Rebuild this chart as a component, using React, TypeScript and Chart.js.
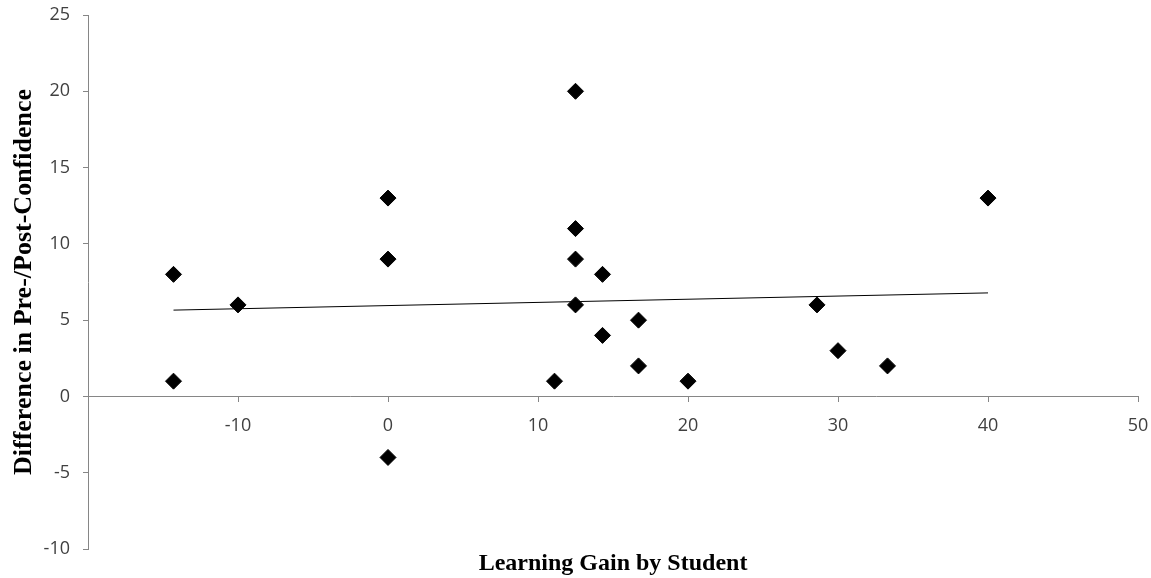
import React, { useEffect, useRef } from "react";
import { Chart, registerables } from "chart.js";

Chart.register(...registerables);

// Data
const learningGain: number[] = [-14.3, -14.3, -10, 0, 0, 0, 11.1, 12.5, 12.5, 12.5, 12.5, 14.3, 14.3, 16.7, 16.7, 20, 28.6, 30, 33.3, 40];
const confidenceDiff: number[] = [8, 1, 6, 13, 9, -4, 1, 20, 11, 9, 6, 8, 4, 5, 2, 1, 6, 3, 2, 13];

const xAxisTitle = "Learning Gain by Student";
const yAxisTitle = "Difference in Pre-/Post-Confidence";
const xMin = -20;
const xMax = 50;
const yMin = -10;
const yMax = 25;

function linearFit(xs: number[], ys: number[]) {
  const n = xs.length;
  const mx = xs.reduce((a, b) => a + b, 0) / n;
  const my = ys.reduce((a, b) => a + b, 0) / n;
  let sxy = 0;
  let sxx = 0;
  for (let i = 0; i < n; i++) {
    sxy += (xs[i] - mx) * (ys[i] - my);
    sxx += (xs[i] - mx) * (xs[i] - mx);
  }
  const slope = sxy / sxx;
  return { slope, intercept: my - slope * mx };
}

export default function App() {
  const canvasRef = useRef<HTMLCanvasElement | null>(null);

  useEffect(() => {
    document.body.style.margin = "0";
    const canvas = canvasRef.current;
    if (!canvas) return;
    const points = learningGain.map((x, i) => ({ x, y: confidenceDiff[i] }));
    const fit = linearFit(learningGain, confidenceDiff);
    const lo = Math.min(...learningGain);
    const hi = Math.max(...learningGain);
    const trend = [
      { x: lo, y: fit.intercept + fit.slope * lo },
      { x: hi, y: fit.intercept + fit.slope * hi },
    ];
    const axisColor = "#868686";
    const tickFont = { family: "'Open Sans', 'Liberation Sans', sans-serif", size: 18 };
    const chart = new Chart(canvas, {
      type: "scatter",
      data: {
        datasets: [
          {
            label: "Students",
            data: points,
            pointStyle: "rectRot",
            pointRadius: 8,
            pointBackgroundColor: "#000000",
            pointBorderColor: "#000000",
            pointBorderWidth: 1,
            showLine: false,
          },
          {
            label: "Linear trend",
            type: "line",
            data: trend,
            borderColor: "#000000",
            borderWidth: 1,
            pointRadius: 0,
            fill: false,
          },
        ],
      },
      options: {
        animation: false,
        responsive: true,
        maintainAspectRatio: false,
        layout: { padding: { top: 15, right: 13, left: 0, bottom: 0 } },
        plugins: {
          legend: { display: false },
          tooltip: { enabled: false },
          title: {
            display: true,
            text: xAxisTitle,
            position: "bottom",
            fullSize: false,
            color: "#000000",
            font: { family: "'Liberation Serif', 'Times New Roman', serif", size: 24, weight: "bold", lineHeight: 1.0 },
            padding: { top: 3, bottom: 2 },
          },
        },
        scales: {
          x: {
            type: "linear",
            position: { y: 0 } as any,
            min: xMin,
            max: xMax,
            ticks: {
              stepSize: 10,
              color: "#404040",
              font: tickFont,
              padding: 14,
              maxRotation: 0,
              callback: (v: any) => (Number(v) === xMin ? "" : String(v)),
            },
            grid: {
              drawOnChartArea: false,
              drawTicks: true,
              tickLength: 5,
              color: axisColor,
            },
            border: { display: true, color: axisColor, width: 1 },
            afterFit: (scale: any) => {
              scale.paddingLeft = 0;
              scale.paddingRight = 0;
            },
          },
          y: {
            type: "linear",
            position: "left",
            min: yMin,
            max: yMax,
            ticks: {
              stepSize: 5,
              color: "#404040",
              font: tickFont,
              padding: 13,
            },
            grid: {
              drawOnChartArea: false,
              drawTicks: true,
              tickLength: 5,
              color: axisColor,
            },
            border: { display: true, color: axisColor, width: 1 },
            title: {
              display: true,
              text: yAxisTitle,
              color: "#000000",
              font: { family: "'Liberation Serif', 'Times New Roman', serif", size: 26, weight: "bold", lineHeight: 1.2 },
              padding: { top: 9, bottom: 0 },
            },
            afterFit: (scale: any) => {
              scale.width = 88;
              scale.paddingTop = 0;
              scale.paddingBottom = 0;
            },
          },
        },
      },
    });
    return () => chart.destroy();
  }, []);

  return (
    <div style={{ position: "relative", width: "1151px", height: "578px" }}>
      <canvas ref={canvasRef} />
    </div>
  );
}
